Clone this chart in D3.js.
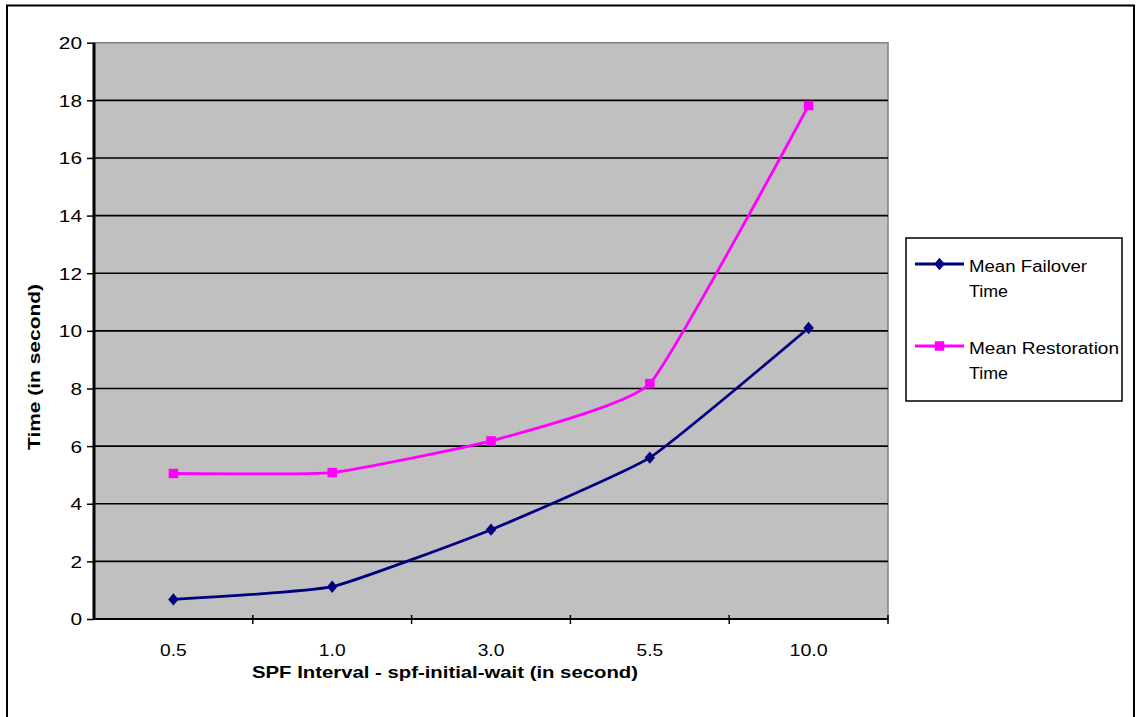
<!DOCTYPE html>
<html><head><meta charset="utf-8">
<script src="https://cdn.jsdelivr.net/npm/d3@7"></script>
<style>body{margin:0;background:#fff}svg{display:block}text{font-family:"Liberation Sans",Arial,sans-serif}</style>
</head><body><svg id="c" width="1136" height="717"></svg>
<script>
const categories = ["0.5","1.0","3.0","5.5","10.0"];
const failover = [0.68, 1.12, 3.1, 5.6, 10.1];
const restoration = [5.05, 5.08, 6.18, 8.17, 17.82];
const yTicks = [0,2,4,6,8,10,12,14,16,18,20];
const seriesNames = ["Mean Failover Time","Mean Restoration Time"];

const svg = d3.select("#c");
const L=94, R=888, T=42.7, B=619;
const tw = s => s.split("").reduce((a,ch)=>a+(ch==="."?3.5:11.6),0);
svg.append("rect").attr("x",7).attr("y",5.5).attr("width",1127).attr("height",720)
  .attr("fill","none").attr("stroke","#000").attr("stroke-width",2);

const x = d3.scaleBand().domain(categories).range([L,R]);
const y = d3.scaleLinear().domain([0,20]).range([B,T]);

svg.append("rect").attr("x",L).attr("y",T).attr("width",R-L).attr("height",B-T).attr("fill","#c0c0c0");
svg.append("path").attr("d",`M${L},${T}H${R}V${B}`).attr("fill","none").attr("stroke","#808080").attr("stroke-width",1.5);
svg.append("g").selectAll("line").data(yTicks.filter(d=>d>0&&d<20)).join("line")
  .attr("x1",L).attr("x2",R).attr("y1",d=>y(d)).attr("y2",d=>y(d))
  .attr("stroke","#000").attr("stroke-width",1.6);

const ya = svg.append("g").attr("transform",`translate(${L},0)`)
  .call(d3.axisLeft(y).tickValues(yTicks).tickSize(7).tickPadding(5).tickFormat(d3.format("d")));
ya.attr("font-size",null).attr("font-family",null);
ya.select(".domain").attr("stroke","#000").attr("stroke-width",3).attr("d",`M0,${T}V${B}`);
ya.selectAll(".tick line").attr("stroke","#000").attr("stroke-width",1.5);
ya.selectAll(".tick text").style("font-size","16.5px").attr("fill","#000").attr("dy","0.36em")
  .attr("textLength",d=>tw(String(d))).attr("lengthAdjust","spacingAndGlyphs");

const xa = svg.append("g").attr("transform",`translate(0,${B})`)
  .call(d3.axisBottom(x).tickSize(0).tickPadding(37));
xa.attr("font-size",null).attr("font-family",null);
xa.select(".domain").attr("stroke","#000").attr("stroke-width",2).attr("d",`M${L},0H${R}`);
xa.selectAll(".tick text").style("font-size","16.5px").attr("fill","#000").attr("dy","0")
  .attr("textLength",d=>tw(d)).attr("lengthAdjust","spacingAndGlyphs");
const bounds = categories.map((c)=>x(c)+x.bandwidth());
svg.append("g").selectAll("line").data(bounds).join("line")
  .attr("x1",d=>d).attr("x2",d=>d).attr("y1",B-4).attr("y2",B+5)
  .attr("stroke","#000").attr("stroke-width",1.5);

svg.append("text").attr("x",445).attr("y",678).attr("text-anchor","middle")
  .style("font-size","16.5px").attr("font-weight","bold").attr("textLength",386).attr("lengthAdjust","spacingAndGlyphs")
  .text("SPF Interval - spf-initial-wait (in second)");
svg.append("text").attr("transform","translate(40,367) rotate(-90)").attr("text-anchor","middle")
  .style("font-size","16.5px").attr("font-weight","bold").attr("textLength",166).attr("lengthAdjust","spacingAndGlyphs")
  .text("Time (in second)");

const cx = c=>x(c)+x.bandwidth()/2;
const line = d3.line().x(d=>cx(d[0])).y(d=>y(d[1])).curve(d3.curveCardinal.tension(0.6));
const colors = ["#000080","#ff00ff"];
const wideDiamond = {draw(ctx,size){const h=Math.sqrt(size)/1.45, w=h*0.85;
  ctx.moveTo(0,-h);ctx.lineTo(w,0);ctx.lineTo(0,h);ctx.lineTo(-w,0);ctx.closePath();}};
const symFor = i => d3.symbol().type(i===0?wideDiamond:d3.symbolSquare).size(i===0?80:90);
[failover, restoration].forEach((vals,i)=>{
  const pts = categories.map((c,j)=>[c,vals[j]]);
  svg.append("path").datum(pts).attr("d",line).attr("fill","none")
    .attr("stroke",colors[i]).attr("stroke-width",2.8);
  svg.append("g").selectAll("path").data(pts).join("path")
    .attr("transform",d=>`translate(${cx(d[0])},${y(d[1])})`).attr("d",symFor(i)).attr("fill",colors[i]);
});

const lg = svg.append("g");
lg.append("rect").attr("x",906).attr("y",238).attr("width",216).attr("height",163)
  .attr("fill","#fff").attr("stroke","#000").attr("stroke-width",1.5);
const legRows = [[264,["Mean Failover","Time"],[118,39]],[346,["Mean Restoration","Time"],[150,39]]];
legRows.forEach((r,i)=>{
  lg.append("line").attr("x1",915).attr("x2",964).attr("y1",r[0]).attr("y2",r[0])
    .attr("stroke",colors[i]).attr("stroke-width",2.8);
  lg.append("path").attr("transform",`translate(939.5,${r[0]})`).attr("d",symFor(i)()).attr("fill",colors[i]);
  r[1].forEach((t,k)=>{
    lg.append("text").attr("x",969).attr("y",r[0]+8+k*25).style("font-size","16px")
      .attr("textLength",r[2][k]).attr("lengthAdjust","spacingAndGlyphs").text(t);
  });
});
</script></body></html>
